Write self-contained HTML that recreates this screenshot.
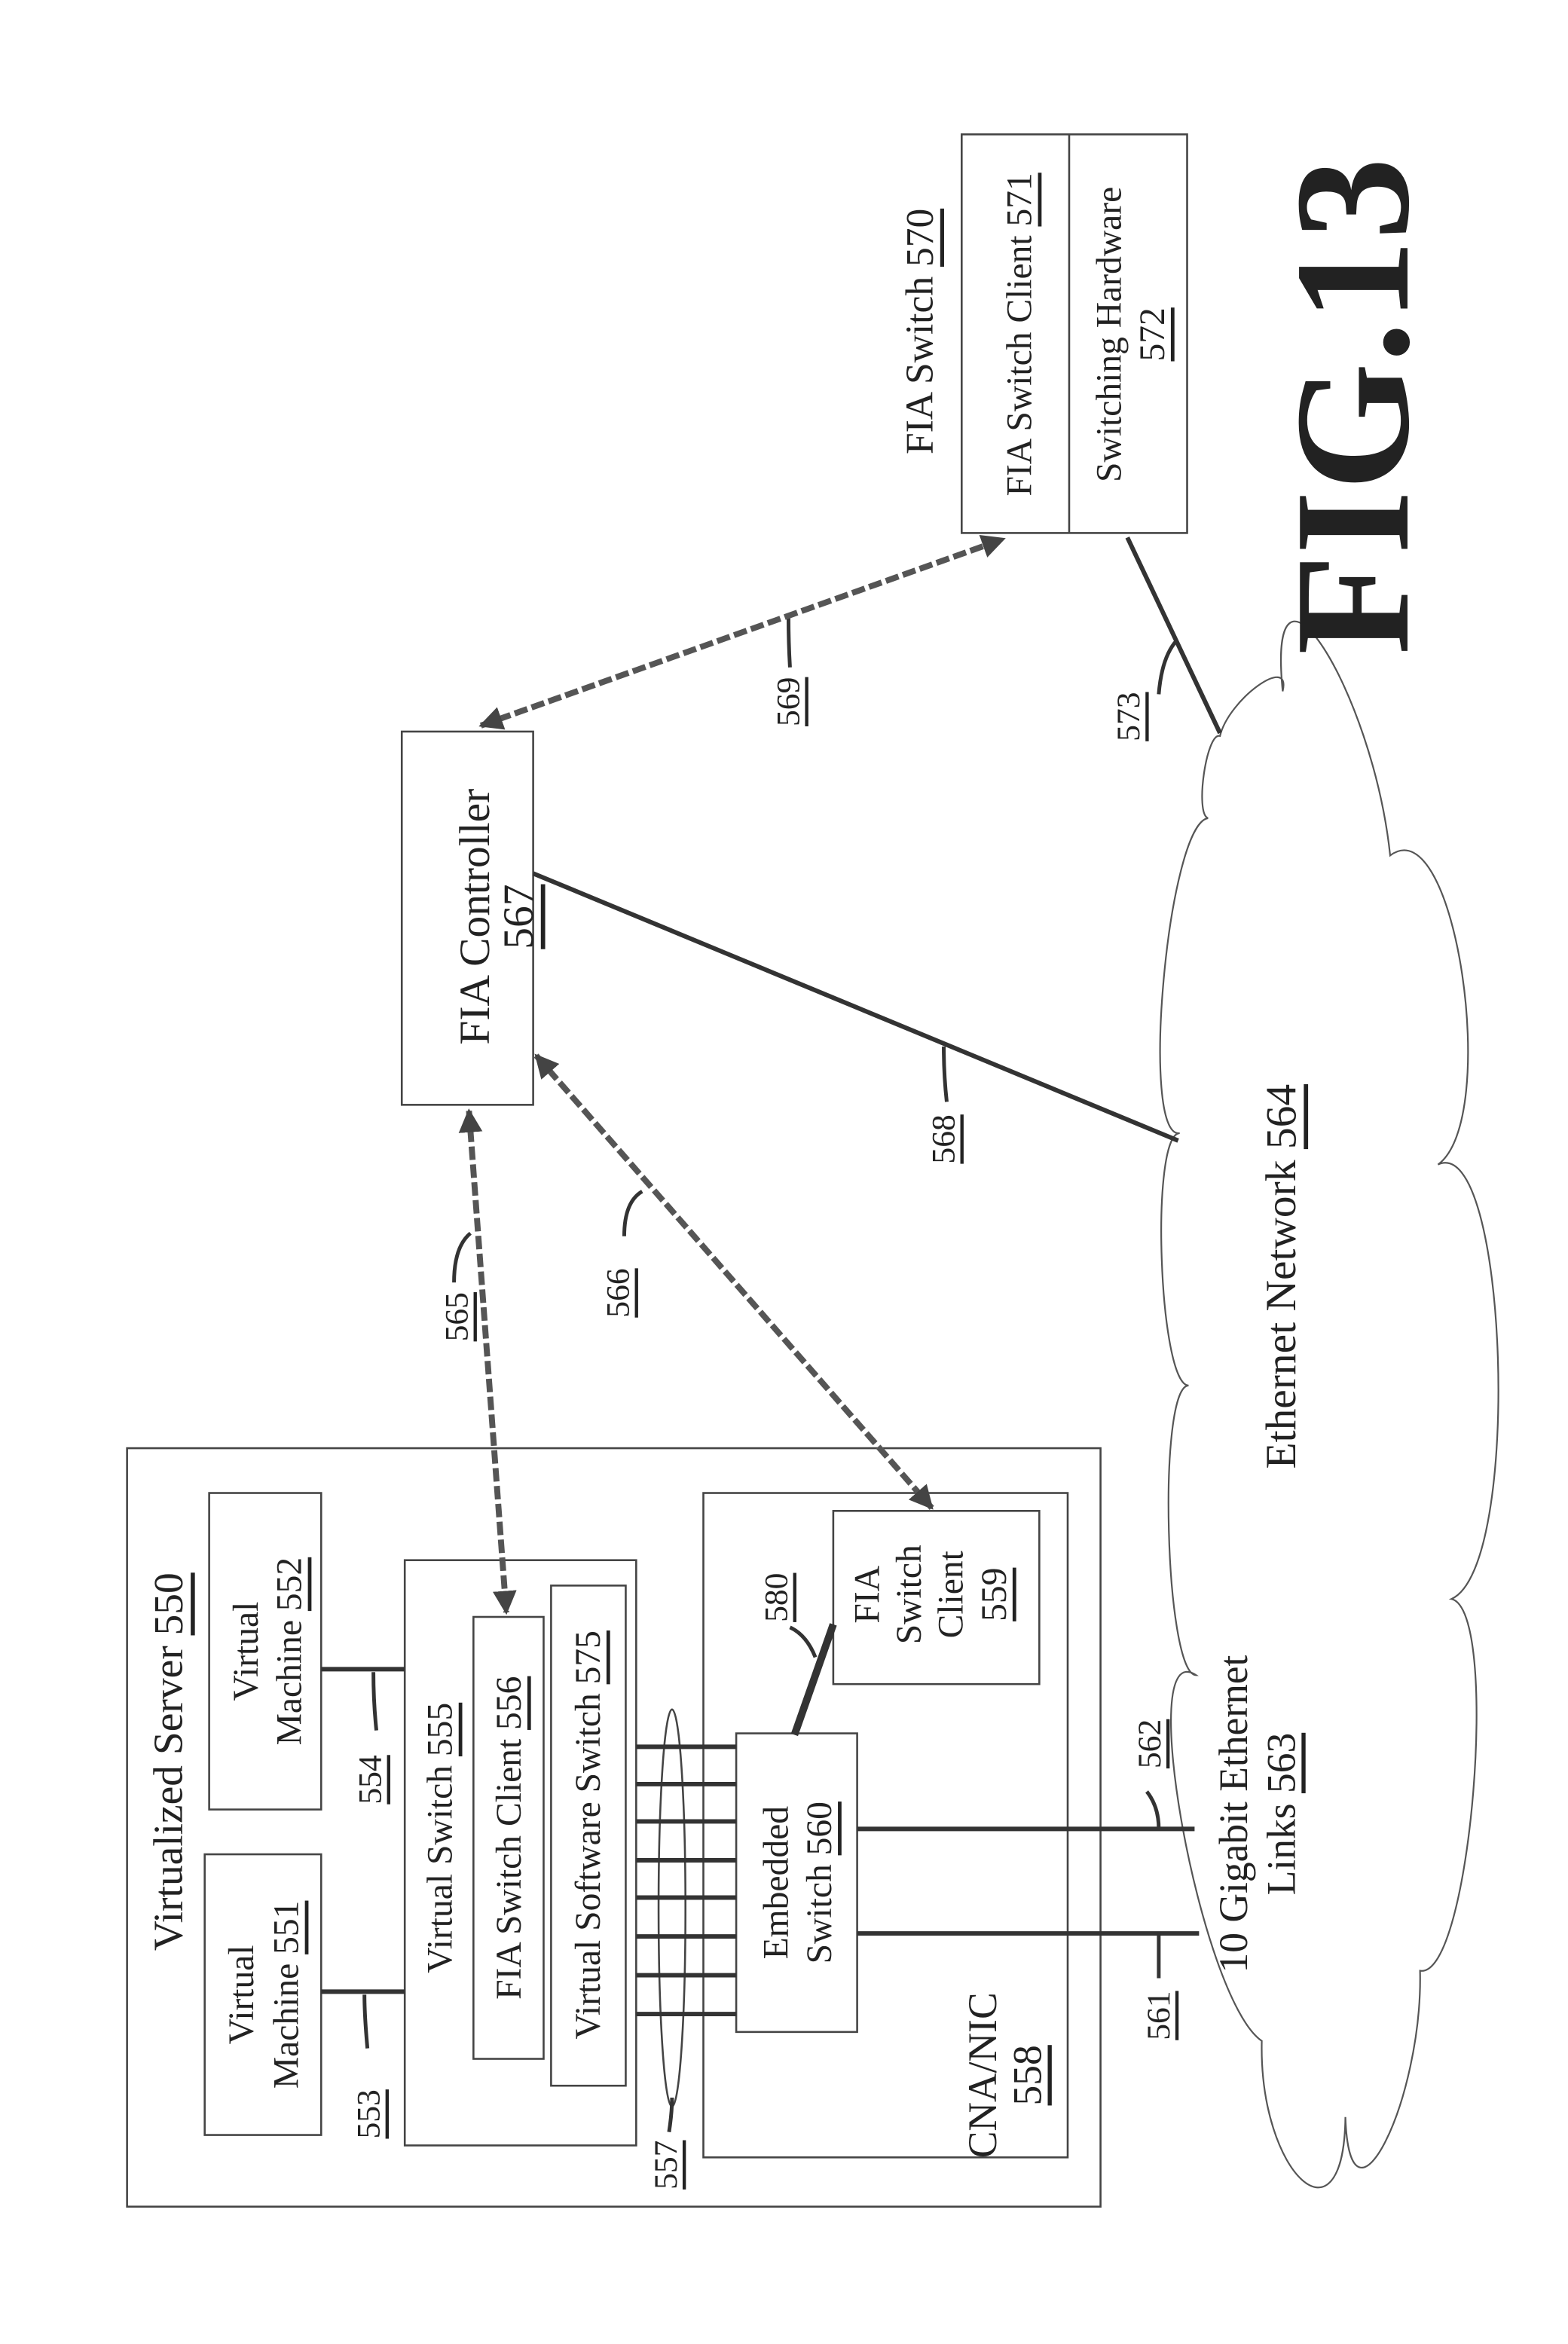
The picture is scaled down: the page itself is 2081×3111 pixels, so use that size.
<!DOCTYPE html>
<html><head><meta charset="utf-8"><style>
html,body{margin:0;padding:0;background:#fff}
svg{display:block}
text{font-family:"Liberation Serif",serif;fill:#222}
</style></head><body>
<svg width="2081" height="3111" viewBox="0 0 1050 1570" xmlns="http://www.w3.org/2000/svg">
<defs>
<marker id="ah" viewBox="0 0 10 10" refX="9" refY="5" markerWidth="4" markerHeight="4" orient="auto-start-reverse" markerUnits="strokeWidth">
<path d="M0,0 L10,5 L0,10 z" fill="#444"/></marker>
</defs>
<g fill="none" stroke="#444" stroke-width="1.3">
<rect x="85" y="970" width="652" height="508"/>
<rect x="140" y="1000" width="75" height="212"/>
<rect x="137" y="1242" width="78" height="188"/>
<rect x="271" y="1045" width="155" height="392"/>
<rect x="317" y="1083" width="47" height="296"/>
<rect x="369" y="1062" width="50" height="335"/>
<rect x="471" y="1000" width="244" height="445"/>
<rect x="493" y="1161" width="81" height="200"/>
<rect x="558" y="1012" width="138" height="116"/>
<rect x="269" y="490" width="88" height="250"/>
<rect x="644" y="90" width="151" height="267"/>
<line x1="716" y1="90" x2="716" y2="357"/>
<path stroke="#555" stroke-width="1.1" d="M801,1122 C780,1122 775,928 796,928 C776,928 770,759 790,759 C763,763 782,552 809,548 C800,545 808,490 817,493 C823,468 865,438 859,463 C848,351 919,461 931,573 C975,540 1005,750 963,780 C1010,758 1020,1050 972,1071 C1005,1078 985,1326 951,1320 C953,1407 904,1505 901,1418 C900,1508 843,1457 845,1367 C804,1339 759,1094 801,1122 Z"/>
<ellipse cx="450" cy="1278" rx="9" ry="133"/>
</g>
<g stroke="#333" stroke-width="3" fill="none">
<line x1="215" y1="1334" x2="271" y2="1334"/>
<line x1="215" y1="1118" x2="271" y2="1118"/>
<line x1="426" y1="1170" x2="493" y2="1170"/>
<line x1="426" y1="1195" x2="493" y2="1195"/>
<line x1="426" y1="1220" x2="493" y2="1220"/>
<line x1="426" y1="1246" x2="493" y2="1246"/>
<line x1="426" y1="1271" x2="493" y2="1271"/>
<line x1="426" y1="1297" x2="493" y2="1297"/>
<line x1="426" y1="1323" x2="493" y2="1323"/>
<line x1="426" y1="1349" x2="493" y2="1349"/>
<line x1="574" y1="1225" x2="800" y2="1225"/>
<line x1="574" y1="1295" x2="803" y2="1295"/>
<line x1="532" y1="1162" x2="558" y2="1088" stroke-width="5"/>
<line x1="357" y1="585" x2="789" y2="764"/>
<line x1="755" y1="360" x2="817" y2="491"/>
</g>
<g stroke="#333" stroke-width="2.5" fill="none">
<path d="M246,1372 Q244,1350 244,1336"/>
<path d="M252,1159 Q250,1140 250,1120"/>
<path d="M448,1428 Q450,1415 450,1405"/>
<path d="M529,1090 Q540,1095 546,1110"/>
<path d="M768,1200 Q776,1210 776,1225"/>
<path d="M776,1325 Q776,1310 776,1295"/>
<path d="M634,738 Q632,720 632,701"/>
<path d="M304,859 Q304,835 315,826"/>
<path d="M418,828 Q418,805 430,798"/>
<path d="M529,447 Q528,430 528,413"/>
<path d="M776,465 Q778,440 788,429"/>
</g>
<g stroke="#555" stroke-width="4" stroke-dasharray="9,3" fill="none">
<line x1="322" y1="486" x2="672" y2="361" marker-start="url(#ah)" marker-end="url(#ah)"/>
<line x1="314" y1="744" x2="339" y2="1080" marker-start="url(#ah)" marker-end="url(#ah)"/>
<line x1="359" y1="707" x2="624" y2="1010" marker-start="url(#ah)" marker-end="url(#ah)"/>
</g>
<g text-anchor="middle" dominant-baseline="central" font-size="24">
<text transform="translate(113,1180) rotate(-90)" font-size="28">Virtualized Server <tspan text-decoration="underline">550</tspan></text>
<text transform="translate(165,1106) rotate(-90)">Virtual</text>
<text transform="translate(194,1106) rotate(-90)">Machine <tspan text-decoration="underline">552</tspan></text>
<text transform="translate(162,1336) rotate(-90)">Virtual</text>
<text transform="translate(192,1336) rotate(-90)">Machine <tspan text-decoration="underline">551</tspan></text>
<text transform="translate(295,1231) rotate(-90)">Virtual Switch <tspan text-decoration="underline">555</tspan></text>
<text transform="translate(341,1231) rotate(-90)">FIA Switch Client <tspan text-decoration="underline">556</tspan></text>
<text transform="translate(394,1229) rotate(-90)">Virtual Software Switch <tspan text-decoration="underline">575</tspan></text>
<text transform="translate(520,1261) rotate(-90)">Embedded</text>
<text transform="translate(549,1261) rotate(-90)">Switch <tspan text-decoration="underline">560</tspan></text>
<text transform="translate(658,1390) rotate(-90)" font-size="27">CNA/NIC</text>
<text transform="translate(688,1390) rotate(-90)" font-size="27"><tspan text-decoration="underline">558</tspan></text>
<text transform="translate(581,1068) rotate(-90)">FIA</text>
<text transform="translate(609,1068) rotate(-90)">Switch</text>
<text transform="translate(637,1068) rotate(-90)">Client</text>
<text transform="translate(666,1068) rotate(-90)"><tspan text-decoration="underline">559</tspan></text>
<text transform="translate(247,1416) rotate(-90)" font-size="22"><tspan text-decoration="underline">553</tspan></text>
<text transform="translate(248,1192) rotate(-90)" font-size="22"><tspan text-decoration="underline">554</tspan></text>
<text transform="translate(446,1450) rotate(-90)" font-size="22"><tspan text-decoration="underline">557</tspan></text>
<text transform="translate(520,1070) rotate(-90)" font-size="22"><tspan text-decoration="underline">580</tspan></text>
<text transform="translate(770,1168) rotate(-90)" font-size="22"><tspan text-decoration="underline">562</tspan></text>
<text transform="translate(776,1350) rotate(-90)" font-size="22"><tspan text-decoration="underline">561</tspan></text>
<text transform="translate(826,1215) rotate(-90)" font-size="27">10 Gigabit Ethernet</text>
<text transform="translate(858,1215) rotate(-90)" font-size="27">Links <tspan text-decoration="underline">563</tspan></text>
<text transform="translate(858,855) rotate(-90)" font-size="29">Ethernet Network <tspan text-decoration="underline">564</tspan></text>
<text transform="translate(318,614) rotate(-90)" font-size="29">FIA Controller</text>
<text transform="translate(347,614) rotate(-90)" font-size="29"><tspan text-decoration="underline">567</tspan></text>
<text transform="translate(306,882) rotate(-90)" font-size="22"><tspan text-decoration="underline">565</tspan></text>
<text transform="translate(414,866) rotate(-90)" font-size="22"><tspan text-decoration="underline">566</tspan></text>
<text transform="translate(632,763) rotate(-90)" font-size="22"><tspan text-decoration="underline">568</tspan></text>
<text transform="translate(528,470) rotate(-90)" font-size="22"><tspan text-decoration="underline">569</tspan></text>
<text transform="translate(756,480) rotate(-90)" font-size="22"><tspan text-decoration="underline">573</tspan></text>
<text transform="translate(616,222) rotate(-90)" font-size="26">FIA Switch <tspan text-decoration="underline">570</tspan></text>
<text transform="translate(683,224) rotate(-90)">FIA Switch Client <tspan text-decoration="underline">571</tspan></text>
<text transform="translate(743,224) rotate(-90)">Switching Hardware</text>
<text transform="translate(772,224) rotate(-90)"><tspan text-decoration="underline">572</tspan></text>
<text transform="translate(906,272) rotate(-90)" font-size="110" font-weight="bold">FIG.13</text>
</g>
</svg>
</body></html>
